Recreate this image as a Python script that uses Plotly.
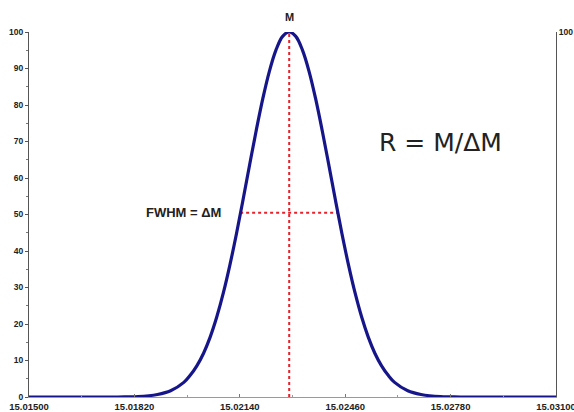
import plotly.graph_objects as go

# Peak profile (mass in Da, relative intensity in %)
mass = [15.01500, 15.01770, 15.01830, 15.01890, 15.01930, 15.01970, 15.01990,
        15.02010, 15.02030, 15.02050, 15.02070, 15.02090, 15.02110, 15.02130,
        15.02150, 15.02170, 15.02190, 15.02210, 15.02230, 15.02250, 15.02270,
        15.02290,
        15.02310, 15.02330, 15.02350, 15.02370, 15.02390, 15.02410, 15.02430,
        15.02450, 15.02470, 15.02490, 15.02510, 15.02530, 15.02550, 15.02570,
        15.02590, 15.02610, 15.02650, 15.02690, 15.02750, 15.02810, 15.03100]
intensity = [0, 0, 0.1, 0.7, 1.7, 4.0, 6.0,
             8.6, 12.0, 16.4, 21.9, 28.5, 36.2, 44.8,
             54.1, 63.7, 73.1, 81.8, 89.3, 95.1, 98.8,
             100,
             98.8, 95.1, 89.3, 81.8, 73.1, 63.7, 54.1,
             44.8, 36.2, 28.5, 21.9, 16.4, 12.0, 8.6,
             6.0, 4.0, 1.7, 0.7, 0.1, 0, 0]

peak_mass = [15.02290, 15.02290]
peak_line_y = [0, 100]
fwhm_mass = [15.02141, 15.02438]
fwhm_y = [50.5, 50.5]

x_ticks = [15.01500, 15.01820, 15.02140, 15.02460, 15.02780, 15.03100]
x_tick_labels = ["15.01500", "15.01820", "15.02140", "15.02460", "15.02780", "15.03100"]
x_minor = [15.01660, 15.01980, 15.02300, 15.02620, 15.02940]

x_range = [15.01500, 15.03100]
y_range = [0, 100]

FONT = "Liberation Sans"
tick_font = dict(family=FONT, size=9.5, color="#222222", weight="bold")
ytick_font = dict(family=FONT, size=8.5, color="#222222", weight="bold")

fig = go.Figure()
fig.add_trace(go.Scatter(x=peak_mass, y=peak_line_y, mode="lines",
                         line=dict(color="#e8202a", width=2, dash="dot"),
                         hoverinfo="skip", showlegend=False))
fig.add_trace(go.Scatter(x=fwhm_mass, y=fwhm_y, mode="lines",
                         line=dict(color="#e8202a", width=2, dash="dot"),
                         hoverinfo="skip", showlegend=False))
fig.add_trace(go.Scatter(x=mass, y=intensity, mode="lines",
                         line=dict(color="#16168a", width=3.2, shape="spline", smoothing=1),
                         showlegend=False, cliponaxis=False))
# invisible trace to activate right axis
fig.add_trace(go.Scatter(x=[x_range[0]], y=[0], yaxis="y2", mode="markers",
                         marker=dict(opacity=0), hoverinfo="skip", showlegend=False))

fig.update_layout(
    width=574, height=412,
    template="none",
    paper_bgcolor="white", plot_bgcolor="white",
    margin=dict(l=29, r=18, t=32, b=15),
    xaxis=dict(range=x_range, tickmode="array", tickvals=x_ticks, ticktext=x_tick_labels,
               showgrid=False, zeroline=False, showline=True, linecolor="#9a9a9a",
               linewidth=1, ticks="inside", ticklen=3, tickcolor="#777777",
               tickfont=tick_font, automargin=False, ticklabelstandoff=1,
               ticklabeloverflow="allow",
               minor=dict(ticks="inside", tickvals=x_minor, ticklen=2, tickcolor="#999999")),
    yaxis=dict(range=y_range, tick0=0, dtick=10, showgrid=False, zeroline=False,
               showline=True, linecolor="#555555", linewidth=1, ticks="outside",
               ticklen=3, tickcolor="#555555", tickfont=ytick_font,
               automargin=False,
               minor=dict(ticks="outside", dtick=5, ticklen=2, tickcolor="#777777")),
    yaxis2=dict(range=y_range, overlaying="y", side="right", tickvals=[100],
                showgrid=False, zeroline=False, showline=True, linecolor="#555555",
                linewidth=1, ticks="", tickfont=ytick_font, automargin=False),
    annotations=[
        dict(x=peak_mass[0], y=100, xref="x", yref="y", text="M", showarrow=False,
             yanchor="bottom", yshift=7,
             font=dict(family=FONT, size=11, color="#222222", weight="bold")),
        dict(x=fwhm_mass[0], y=fwhm_y[0], xref="x", yref="y", text="FWHM = ΔM",
             showarrow=False, xanchor="right", xshift=-17,
             font=dict(family=FONT, size=13, color="#222222", weight="bold")),
        dict(x=0.660, y=0.696, xref="paper", yref="paper", text="R = M/ΔM",
             showarrow=False, xanchor="left", yanchor="middle",
             font=dict(family="DejaVu Sans", size=25, color="#222222")),
    ],
)

fig.write_html("out.html", config={"displayModeBar": False},
               post_script="document.body.style.margin='0';document.body.style.overflow='hidden';")
